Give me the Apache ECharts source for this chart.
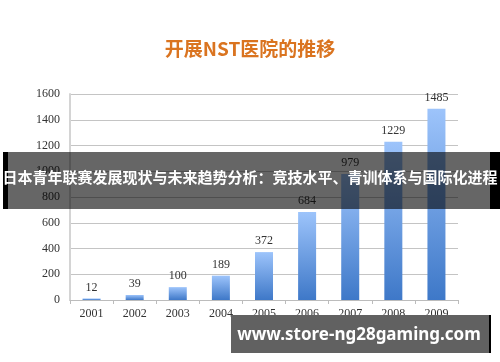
<!DOCTYPE html>
<html>
<head>
<meta charset="utf-8">
<script src="https://cdn.jsdelivr.net/npm/echarts@6/dist/echarts.min.js"></script>
<style>
  html, body { margin: 0; padding: 0; background: #fff; }
  #chart { width: 500px; height: 362px; }
</style>
</head>
<body>
<div id="chart"></div>
<script>
// NST-hospital counts per year
const years = ['2001', '2002', '2003', '2004', '2005', '2006', '2007', '2008', '2009'];
const hospitals = [12, 39, 100, 189, 372, 684, 979, 1229, 1485];
const yTicks = { min: 0, max: 1600, interval: 200 };

const chartTitle = '开展NST医院的推移';
const bannerText = '日本青年联赛发展现状与未来趋势分析：竞技水平、青训体系与国际化进程';
const siteText = 'www.store-ng28gaming.com';

const serif = '"Liberation Serif", "DejaVu Serif", serif';
const chart = echarts.init(document.getElementById('chart'));

chart.setOption({
  animation: false,
  title: {
    text: chartTitle,
    left: 'center',
    top: 34,
    textStyle: {
      fontFamily: '"Noto Sans CJK SC", sans-serif',
      fontSize: 19,
      fontWeight: 'bold',
      color: '#DA7420'
    }
  },
  grid: { left: 70, right: 42, top: 94, bottom: 62 },
  xAxis: {
    type: 'category',
    data: years,
    axisLine: { lineStyle: { color: '#bcbcbc', width: 1 } },
    axisTick: { show: true, length: 4, lineStyle: { color: '#bcbcbc' } },
    axisLabel: { fontFamily: serif, fontSize: 12, color: '#333', margin: 8 }
  },
  yAxis: {
    type: 'value',
    min: yTicks.min,
    max: yTicks.max,
    interval: yTicks.interval,
    axisLine: { show: true, lineStyle: { color: '#d4d4d4', width: 2 } },
    axisTick: { show: false },
    splitLine: { lineStyle: { color: '#c4c4c4', width: 1 } },
    axisLabel: {
      fontFamily: serif, fontSize: 12, color: '#333', margin: 10,
      formatter: v => String(v)
    }
  },
  series: [{
    type: 'bar',
    data: hospitals,
    barWidth: 18,
    itemStyle: {
      color: new echarts.graphic.LinearGradient(0, 0, 0, 1, [
        { offset: 0, color: '#9DC4FB' },
        { offset: 1, color: '#3E78C8' }
      ])
    },
    label: {
      show: true,
      position: 'top',
      distance: 5,
      fontFamily: serif,
      fontSize: 12,
      color: '#333'
    }
  }],
  graphic: [
    // translucent headline banner across the middle
    { type: 'rect', z: 100, shape: { x: 8, y: 152, width: 482, height: 57 },
      style: { fill: 'rgba(0,0,0,0.6)' } },
    { type: 'rect', z: 100, shape: { x: 3, y: 152, width: 5, height: 57 },
      style: { fill: '#000' } },
    { type: 'rect', z: 100, shape: { x: 490, y: 152, width: 10, height: 57 },
      style: { fill: '#000' } },
    { type: 'text', z: 101, x: 250, y: 177,
      style: {
        text: bannerText, fill: '#fff', align: 'center', verticalAlign: 'middle',
        font: 'bold 15px "Noto Sans CJK SC", sans-serif'
      } },
    // site address box at bottom right
    { type: 'rect', z: 100, shape: { x: 231, y: 315, width: 259, height: 38 },
      style: { fill: '#616161' } },
    { type: 'rect', z: 100, shape: { x: 489, y: 315, width: 2, height: 38 },
      style: { fill: '#000' } },
    { type: 'text', z: 101, x: 359, y: 335,
      style: {
        text: siteText, fill: '#fff', align: 'center', verticalAlign: 'middle',
        font: 'bold 17px "Noto Sans", "Open Sans", sans-serif'
      } }
  ]
});
</script>
</body>
</html>
